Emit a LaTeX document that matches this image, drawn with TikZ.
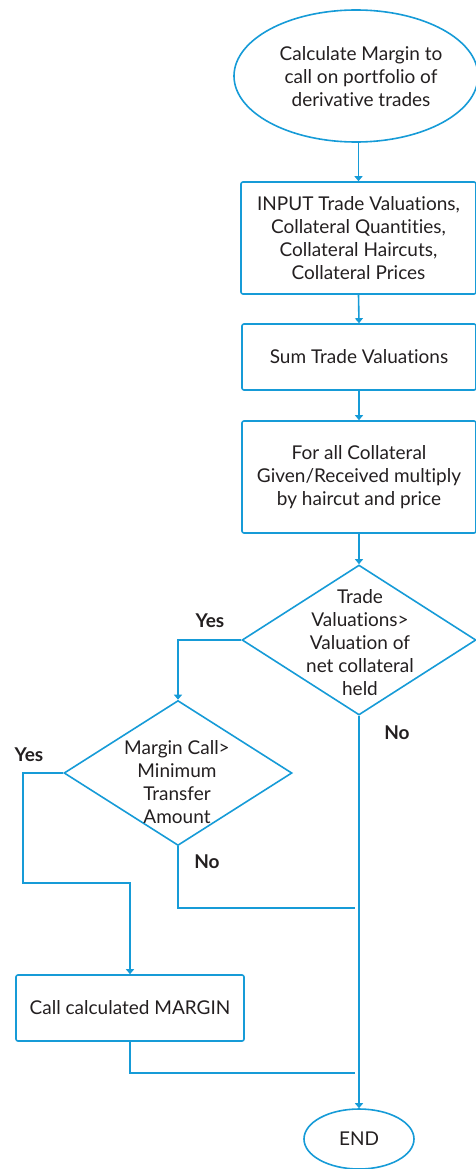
\documentclass[tikz,border=0pt]{standalone}
\usepackage{fontspec}
\setmainfont{Lato}[Ligatures=NoCommon]
\usetikzlibrary{shapes.geometric,arrows.meta}
\definecolor{flowblue}{RGB}{22,155,215}
\definecolor{txt}{RGB}{35,31,32}
\begin{document}
\begin{tikzpicture}[x=1pt,y=-1pt,
  every node/.style={font=\fontsize{19}{23}\selectfont, text=txt, align=center},
  shp/.style={draw=flowblue, line width=1.6pt, inner sep=0pt},
  boxnode/.style={shp, rectangle, rounded corners=2pt},
  ellnode/.style={shp, ellipse},
  dianode/.style={shp, diamond},
  lbl/.style={font=\fontsize{19}{20}\selectfont\bfseries},
  conn/.style={draw=flowblue, line width=1.6pt},
  arr/.style={conn, -{Triangle[width=8pt,length=5pt]}}
]
\useasboundingbox (0,0) rectangle (475,1169);

\node[ellnode, minimum width=244pt, minimum height=132pt] (start) at (356,76) {};
\node (starttext) at (361,77) {Calculate Margin to\\call on portfolio of\\derivative trades};

\node[boxnode, minimum width=235pt, minimum height=112pt] (input) at (358.5,238) {INPUT Trade Valuations,\\Collateral Quantities,\\Collateral Haircuts,\\Collateral Prices};
\node[boxnode, minimum width=234pt, minimum height=66pt] (sum) at (359,357) {Sum Trade Valuations};
\node[boxnode, minimum width=234pt, minimum height=112pt] (coll) at (359,477) {For all Collateral\\Given/Received multiply\\by haircut and price};

\node[dianode, minimum width=234pt, minimum height=150pt] (dia1) at (359,640) {};
\node (dia1text) at (360,643) {Trade\\Valuations>\\Valuation of\\net collateral\\held};

\node[dianode, minimum width=228pt, minimum height=145pt] (dia2) at (178,773) {};
\node (dia2text) at (177,782) {Margin Call>\\Minimum\\Transfer\\Amount};

\node[boxnode, minimum width=228pt, minimum height=66pt] (call) at (130,1008) {Call calculated MARGIN};
\node[ellnode, minimum width=110pt, minimum height=60pt] (end) at (359,1139) {END};

\node[lbl] (yes1) at (210,621) {Yes};
\node[lbl] (yes2) at (29,755) {Yes};
\node[lbl] (no1) at (397,733) {No};
\node[lbl] (no2) at (207,862) {No};

\coordinate (yesbend) at (23,883);
\coordinate (join1) at (355,908);
\coordinate (join2) at (355,1073);

\draw[arr] (input.north |- start.south) -- (input.north);
\draw[arr] (input.south) -- (sum.north);
\draw[arr] (sum.south) -- (coll.north);
\draw[arr] (coll.south) -- (dia1.north);
\draw[arr] (dia1.west) -| (dia2.north);
\draw[arr] (dia2.west) -| (yesbend) -| (call.north);
\draw[arr] (dia1.south) -- (end.north);
\draw[conn] (dia2.south) |- (join1);
\draw[conn] (call.south) |- (join2);
\end{tikzpicture}
\end{document}
